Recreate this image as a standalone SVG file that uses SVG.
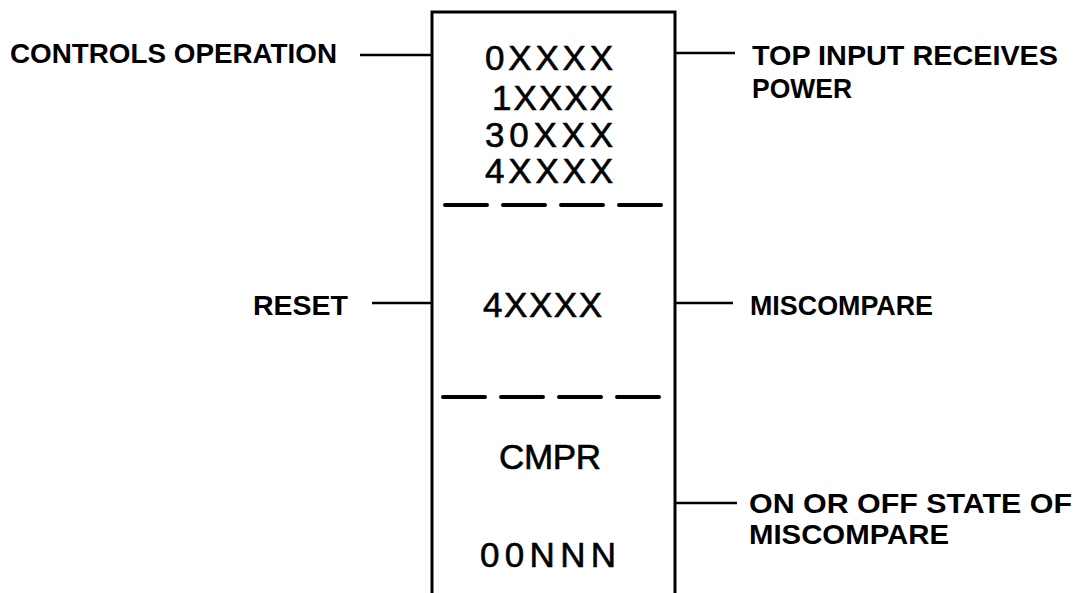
<svg xmlns="http://www.w3.org/2000/svg" width="1091" height="593" viewBox="0 0 1091 593">
  <style>
    .label { font-family: "Liberation Sans", Arial, sans-serif; font-weight: bold; font-size: 28px; fill: #000; }
    .cell { font-family: "Liberation Sans", Arial, sans-serif; font-size: 35px; fill: #000; stroke: #000; stroke-width: 0.6; }
    .frame { fill: none; stroke: #000; stroke-width: 3; }
    .divider { fill: none; stroke: #000; stroke-width: 4; stroke-dasharray: 42 16; stroke-linecap: round; }
    .lead { fill: none; stroke: #000; stroke-width: 2.5; }
  </style>
  <rect width="1091" height="593" fill="#fff"/>

  <!-- CMPR function block (open at the bottom of the sheet) -->
  <g id="block">
    <path class="frame" d="M432,596 V12 H675 V596"/>
    <text class="cell" x="485" y="70" textLength="128" lengthAdjust="spacing">0XXXX</text>
    <text class="cell" x="492" y="110" textLength="121" lengthAdjust="spacing">1XXXX</text>
    <text class="cell" x="485" y="147" textLength="128" lengthAdjust="spacing">30XXX</text>
    <text class="cell" x="485" y="183" textLength="128" lengthAdjust="spacing">4XXXX</text>
    <path class="divider" d="M445,205 H663"/>
    <text class="cell" x="483" y="317" textLength="119" lengthAdjust="spacing">4XXXX</text>
    <path class="divider" d="M443,397 H660"/>
    <text class="cell" x="499" y="469" textLength="102" lengthAdjust="spacing">CMPR</text>
    <text class="cell" x="480" y="567" textLength="136" lengthAdjust="spacing">00NNN</text>
  </g>

  <!-- lead lines to the block -->
  <g id="connectors">
    <line class="lead" x1="360" y1="55" x2="432" y2="55"/>
    <line class="lead" x1="675" y1="53" x2="735" y2="53"/>
    <line class="lead" x1="372" y1="303" x2="432" y2="303"/>
    <line class="lead" x1="675" y1="303" x2="733" y2="303"/>
    <line class="lead" x1="675" y1="503" x2="737" y2="503"/>
  </g>

  <g id="controls-operation">
    <text class="label" x="10" y="63" textLength="327" lengthAdjust="spacingAndGlyphs">CONTROLS OPERATION</text>
  </g>
  <g id="top-input">
    <text class="label" x="752" y="65" textLength="306" lengthAdjust="spacingAndGlyphs">TOP INPUT RECEIVES</text>
    <text class="label" x="752" y="98" textLength="100" lengthAdjust="spacingAndGlyphs">POWER</text>
  </g>
  <g id="reset">
    <text class="label" x="253" y="315" textLength="95" lengthAdjust="spacingAndGlyphs">RESET</text>
  </g>
  <g id="miscompare">
    <text class="label" x="750" y="315" textLength="183" lengthAdjust="spacingAndGlyphs">MISCOMPARE</text>
  </g>
  <g id="miscompare-state">
    <text class="label" x="749" y="513" textLength="323" lengthAdjust="spacingAndGlyphs">ON OR OFF STATE OF</text>
    <text class="label" x="749" y="544" textLength="200" lengthAdjust="spacingAndGlyphs">MISCOMPARE</text>
  </g>
</svg>
